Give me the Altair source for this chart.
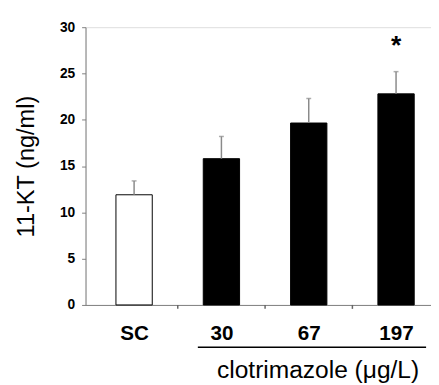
import altair as alt
import pandas as pd

# ---- data ----
groups = ["SC", "30", "67", "197"]
means = [11.9, 15.8, 19.65, 22.8]
upper = [13.4, 18.2, 22.3, 25.2]
fills = ["white", "black", "black", "black"]
signif = ["", "", "", "*"]
y_ticks = [0, 5, 10, 15, 20, 25, 30]
x_title = "clotrimazole (μg/L)"
y_title = "11-KT (ng/ml)"
bracket_from = 0.73   # treated groups underline (x units)
bracket_to = 3.344

idx = list(range(len(groups)))
df = pd.DataFrame({"idx": idx, "group": groups, "mean": means, "upper": upper,
                   "fill": fills, "sig": signif})
# separators between neighbouring groups
sep = pd.DataFrame({"s": [i + 0.5 for i in idx[:-1]]})

FONT = "Liberation Sans"
AXC = "#808080"

label_js = "[" + ",".join("'%s'" % g for g in groups) + "]"
x_axis = alt.Axis(
    values=idx,
    labelExpr=label_js + "[datum.value]",
    ticks=False, title=None, grid=False, domainColor=AXC,
    labelFont=FONT, labelFontSize=21, labelFontWeight="bold", labelColor="black",
    labelPadding=18, labelFlush=False, labelOverlap=False,
)
x_scale = alt.Scale(domain=[-0.5, bracket_to], nice=False, zero=False)
y_scale = alt.Scale(domain=[0, 30], nice=False)
y_axis = alt.Axis(
    values=y_ticks, grid=False, domainColor=AXC, tickColor=AXC, tickSize=4,
    labelFont=FONT, labelFontSize=14, labelFontWeight="bold", labelColor="black",
    labelPadding=7, title=y_title, titleFont=FONT, titleFontSize=24,
    titleFontWeight="normal", titleColor="black", titlePadding=21,
)

base = alt.Chart(df)

bars = base.mark_bar(size=37, stroke="black", strokeWidth=1).encode(
    x=alt.X("idx:Q", scale=x_scale, axis=x_axis),
    y=alt.Y("mean:Q", scale=y_scale, axis=y_axis),
    fill=alt.Fill("fill:N", scale=None),
)

err = base.mark_rule(color="#8a8a8a", strokeWidth=1.5).encode(
    x="idx:Q", y="mean:Q", y2="upper:Q"
)
caps = base.mark_tick(orient="horizontal", size=5, thickness=1.5, color="#8a8a8a").encode(
    x="idx:Q", y="upper:Q"
)
stars = base.mark_text(font=FONT, fontSize=27, fontWeight="bold", dy=-18,
                       baseline="alphabetic", color="black").encode(
    x="idx:Q", y="upper:Q", text="sig:N"
)

seps = alt.Chart(sep).mark_rule(color="#666666", strokeWidth=1.5).encode(
    x="s:Q", y=alt.value(283), y2=alt.value(287)
)

bracket = alt.Chart(pd.DataFrame({"a": [bracket_from], "b": [bracket_to]})).mark_rule(
    color="black", strokeWidth=1.5
).encode(x="a:Q", x2="b:Q", y=alt.value(326))

xt = alt.Chart(pd.DataFrame({"t": [x_title], "c": [(bracket_from + bracket_to) / 2 + 0.07]})).mark_text(
    font=FONT, fontSize=25, baseline="alphabetic", align="center", color="black"
).encode(x="c:Q", y=alt.value(357), text="t:N")

chart = alt.layer(bars, err, caps, stars, seps, bracket, xt).properties(
    width=352, height=283,
    autosize=alt.AutoSizeParams(type="none"),
    padding={"left": 79, "top": 16, "right": 0, "bottom": 78},
).configure_view(stroke=None).configure(background="white")

chart.save("out.html", embed_options={"renderer": "svg", "actions": False})
